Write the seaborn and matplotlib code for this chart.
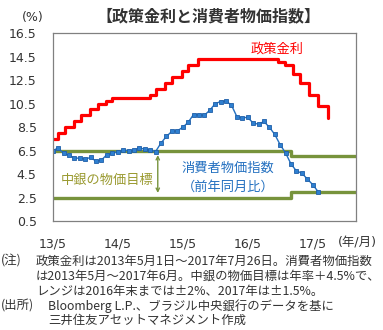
import matplotlib
matplotlib.use("Agg")
import matplotlib.pyplot as plt
import seaborn as sns
import numpy as np
import pandas as pd

# ---- data ----
policy_dates = ["2013-05-01", "2013-05-29", "2013-07-10", "2013-08-28", "2013-10-09",
                "2013-11-27", "2014-01-15", "2014-02-26", "2014-04-02", "2014-10-29",
                "2014-12-03", "2015-01-21", "2015-03-04", "2015-04-29", "2015-06-03",
                "2015-07-29", "2016-10-19", "2016-11-30", "2017-01-11", "2017-02-22",
                "2017-04-12", "2017-05-31", "2017-07-26"]
policy_rate = [7.50, 8.00, 8.50, 9.00, 9.50, 10.00, 10.50, 10.75, 11.00, 11.25,
               11.75, 12.25, 12.75, 13.25, 13.75, 14.25, 14.00, 13.75, 13.00, 12.25,
               11.25, 10.25, 9.25]

cpi_months = pd.period_range("2013-05", "2017-06", freq="M").strftime("%Y-%m").tolist()
cpi_yoy = [6.50, 6.70, 6.27, 6.09, 5.86, 5.84, 5.77, 5.91,
           5.59, 5.68, 6.15, 6.28, 6.37, 6.52, 6.50, 6.51, 6.75, 6.59, 6.56, 6.41,
           7.14, 7.70, 8.13, 8.17, 8.47, 8.89, 9.56, 9.53, 9.49, 9.93, 10.48, 10.67,
           10.71, 10.36, 9.39, 9.28, 9.32, 8.84, 8.74, 8.97, 8.48, 7.87, 6.99, 6.29,
           5.35, 4.76, 4.57, 4.08, 3.60, 3.00]

band_dates = ["2013-05-01", "2017-01-01", "2018-01-01"]
band_upper = [6.5, 6.0, 6.0]
band_lower = [2.5, 3.0, 3.0]

xtick_dates = ["2013-05-01", "2014-05-01", "2015-05-01", "2016-05-01", "2017-05-01"]
xtick_labels = ["13/5", "14/5", "15/5", "16/5", "17/5"]
yticks = [0.5, 2.5, 4.5, 6.5, 8.5, 10.5, 12.5, 14.5, 16.5]


def to_month(s):
    t = pd.Timestamp(s)
    return (t.year - 2013) * 12 + (t.month - 5) + (t.day - 1) / t.days_in_month


# ---- style ----
sns.set_theme(style="white")
plt.rcParams["font.family"] = ["DejaVu Sans", "Noto Sans CJK JP"]

RED = "#FF0000"
BLUE = "#2370C0"
GREEN = "#77933C"
OLIVE_TXT = "#9A9A30"
TXT = "#333333"

fig = plt.figure(figsize=(3.83, 3.30), dpi=100)
ax = fig.add_axes([0.1376, 0.3303, 0.7919, 0.5697])

px = [to_month(d) for d in policy_dates]
bx = [to_month(d) for d in band_dates]
cx = [to_month(m + "-01") for m in cpi_months]

sns.lineplot(x=bx, y=band_upper, ax=ax, color=GREEN, lw=2.4, drawstyle="steps-post",
             estimator=None, sort=False)
sns.lineplot(x=bx, y=band_lower, ax=ax, color=GREEN, lw=2.4, drawstyle="steps-post",
             estimator=None, sort=False)
sns.lineplot(x=px, y=policy_rate, ax=ax, color=RED, lw=2.3, drawstyle="steps-post",
             estimator=None, sort=False)
sns.lineplot(x=cx, y=cpi_yoy, ax=ax, color=BLUE, lw=1.0, marker="s", markersize=3.4,
             markerfacecolor="#2E7FD0", markeredgecolor="#1F5FA8", markeredgewidth=0.6,
             estimator=None, sort=False)

ax.set_xlim(0, 56)
ax.set_ylim(0.5, 16.5)
ax.set_xticks([to_month(d) for d in xtick_dates])
ax.set_xticklabels(xtick_labels)
ax.set_yticks(yticks)
ax.set_yticklabels([f"{v:.1f}" for v in yticks])
ax.tick_params(axis="both", direction="in", length=4, width=0.8, color="#808080",
               labelsize=9, labelcolor=TXT)
ax.tick_params(axis="x", pad=12)
ax.tick_params(axis="y", pad=11.5)
for sp in ax.spines.values():
    sp.set_color("#808080")
    sp.set_linewidth(0.9)
ax.set_xlabel("")
ax.set_ylabel("")

# arrow
ax.annotate("", xy=(19.4, 2.65), xytext=(19.4, 6.35),
            arrowprops=dict(arrowstyle="<->", color=GREEN, lw=1.0,
                            mutation_scale=6))

# in-chart labels
ax.text(10.0, 3.95, "中銀の物価目標", color=OLIVE_TXT, fontsize=9.5,
        family=["Noto Sans CJK JP"], ha="center", va="center")
ax.text(32.4, 5.0, "消費者物価指数", color=BLUE, fontsize=9.5,
        family=["Noto Sans CJK JP"], ha="center", va="center")
ax.text(32.4, 3.35, "（前年同月比）", color=BLUE, fontsize=9.5,
        family=["Noto Sans CJK JP"], ha="center", va="center")
ax.text(41.4, 15.1, "政策金利", color=RED, fontsize=9.5,
        family=["Noto Sans CJK JP"], ha="center", va="center")

# title and units
fig.text(208 / 383, 1 - 16 / 330, "【政策金利と消費者物価指数】", fontsize=11.5,
         fontweight="bold", color="#333333", family=["Noto Sans CJK JP"],
         ha="center", va="center")
fig.text(33 / 383, 1 - 18 / 330, "(%)", fontsize=9, color=TXT,
         ha="center", va="center")
fig.text(357 / 383, 1 - 243 / 330, "(年/月)", fontsize=9, color=TXT,
         family=["DejaVu Sans", "Noto Sans CJK JP"], ha="center", va="center")

# notes
nfs = 8.9
nfam = ["Noto Sans CJK JP"]
fig.text(1 / 383, 1 - 261 / 330, "(注)", fontsize=nfs, color=TXT, family=nfam, va="center")
fig.text(36 / 383, 1 - 261 / 330,
         "政策金利は2013年5月1日～2017年7月26日。消費者物価指数",
         fontsize=nfs, color=TXT, family=nfam, va="center")
fig.text(36 / 383, 1 - 276 / 330,
         "は2013年5月～2017年6月。中銀の物価目標は年率＋4.5%で、",
         fontsize=nfs, color=TXT, family=nfam, va="center")
fig.text(36 / 383, 1 - 291 / 330,
         "レンジは2016年末までは±2%、2017年は±1.5%。",
         fontsize=nfs, color=TXT, family=nfam, va="center")
fig.text(1 / 383, 1 - 306 / 330, "(出所)", fontsize=nfs, color=TXT, family=nfam, va="center")
fig.text(48 / 383, 1 - 306 / 330,
         "Bloomberg L.P.、ブラジル中央銀行のデータを基に",
         fontsize=nfs, color=TXT, family=nfam, va="center")
fig.text(48 / 383, 1 - 320 / 330,
         "三井住友アセットマネジメント作成",
         fontsize=nfs, color=TXT, family=nfam, va="center")

fig.savefig("out.png", dpi=100)
